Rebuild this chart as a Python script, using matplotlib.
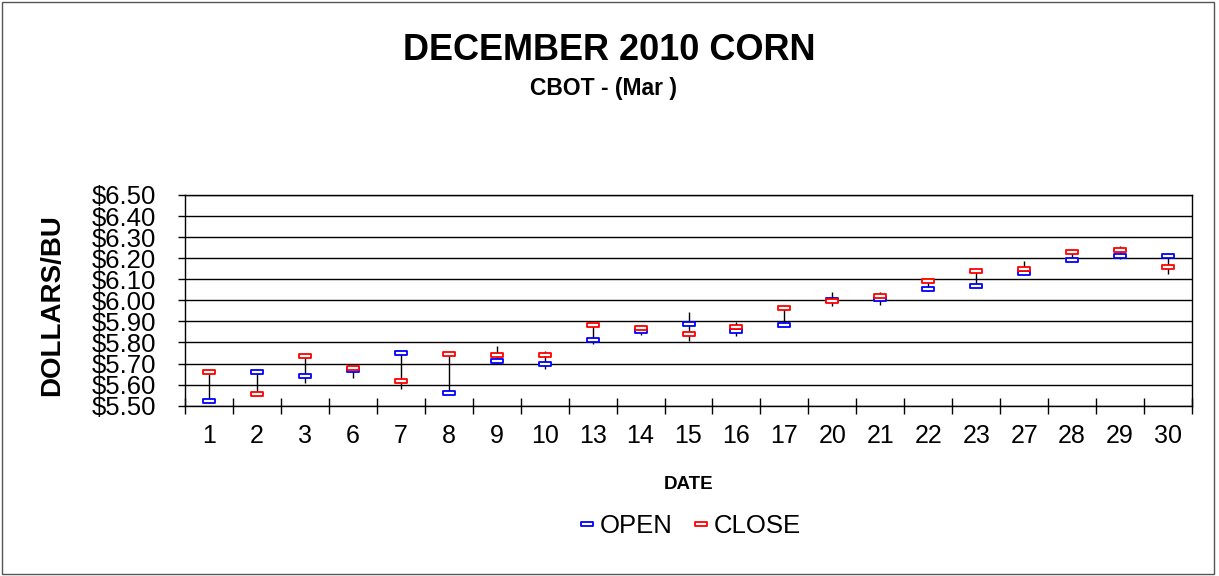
import numpy as np
import matplotlib.pyplot as plt
from matplotlib.path import Path
from matplotlib.patches import Rectangle

plt.rcParams["font.family"] = ["Liberation Sans", "DejaVu Sans"]

# daily trading days (March)
dates = ["1", "2", "3", "6", "7", "8", "9", "10", "13", "14", "15",
         "16", "17", "20", "21", "22", "23", "27", "28", "29", "30"]

open_price = [5.52, 5.66, 5.64, 5.67, 5.75, 5.56, 5.71, 5.70, 5.81, 5.855, 5.89,
              5.855, 5.885, 6.00, 6.005, 6.055, 6.07, 6.13, 6.19, 6.21, 6.21]
close_price = [5.66, 5.555, 5.735, 5.68, 5.615, 5.745, 5.74, 5.74, 5.885, 5.87, 5.84,
               5.875, 5.965, 5.995, 6.02, 6.09, 6.14, 6.15, 6.23, 6.24, 6.16]
high_price = [5.665, 5.675, 5.735, 5.695, 5.75, 5.745, 5.785, 5.76, 5.885, 5.885, 5.945,
              5.895, 5.98, 6.04, 6.04, 6.09, 6.14, 6.185, 6.235, 6.26, 6.22]
low_price = [5.515, 5.555, 5.61, 5.63, 5.58, 5.56, 5.705, 5.675, 5.795, 5.835, 5.805,
             5.83, 5.885, 5.975, 5.98, 6.045, 6.07, 6.125, 6.19, 6.195, 6.125]

y_ticks = [5.50, 5.60, 5.70, 5.80, 5.90, 6.00, 6.10, 6.20, 6.30, 6.40, 6.50]

x = np.arange(len(dates))

# flat hollow box marker for open / close
box = Path([(-1, -0.33), (1, -0.33), (1, 0.33), (-1, 0.33), (-1, -0.33)],
           [Path.MOVETO, Path.LINETO, Path.LINETO, Path.LINETO, Path.CLOSEPOLY])

fig = plt.figure(figsize=(12.19, 5.76), dpi=100)
ax = fig.add_axes([185 / 1219, 1 - 405.7 / 576, 1007 / 1219, 210.7 / 576])

# high-low bars
ax.vlines(x, low_price, high_price, color="black", linewidth=1, zorder=3)

ax.plot(x, open_price, linestyle="none", marker=box, markersize=8.8,
        markerfacecolor="white", markeredgecolor="#0000ff", markeredgewidth=1.3,
        label="OPEN", zorder=4)
ax.plot(x, close_price, linestyle="none", marker=box, markersize=8.8,
        markerfacecolor="white", markeredgecolor="#ff0000", markeredgewidth=1.3,
        label="CLOSE", zorder=5)

ax.set_xlim(-0.5, len(dates) - 0.5)
ax.set_ylim(5.50, 6.50)

ax.set_yticks(y_ticks)
ax.set_yticklabels(["$%.2f" % v for v in y_ticks], fontsize=18.5)
ax.yaxis.grid(True, color="black", linewidth=1)
ax.set_axisbelow(True)

# category ticks sit between the dates, labels in the middle
ax.set_xticks(np.arange(-0.5, len(dates), 1.0))
ax.set_xticklabels([])
ax.set_xticks(x, minor=True)
ax.set_xticklabels(dates, minor=True, fontsize=18)
ax.tick_params(axis="x", which="major", direction="inout", length=11, width=1)
ax.tick_params(axis="x", which="minor", length=0, pad=13)
ax.tick_params(axis="y", direction="out", length=5, width=1, pad=16)

for s in ax.spines.values():
    s.set_color("black")
    s.set_linewidth(1)

ax.set_ylabel("DOLLARS/BU", fontsize=20, fontweight="bold")
ax.yaxis.set_label_coords(-120 / 1007, 0.48)
ax.set_xlabel("DATE", fontsize=13.5, fontweight="bold", labelpad=20)

fig.text(609 / 1219, 1 - 51 / 576, "DECEMBER 2010 CORN", ha="center", va="center",
         fontsize=26, fontweight="bold")
fig.text(604 / 1219, 1 - 88 / 576, "CBOT - (Mar )", ha="center", va="center",
         fontsize=16.5, fontweight="bold")

fig.legend(loc="center", bbox_to_anchor=(690 / 1219, 1 - 526 / 576), ncol=2,
           frameon=False, fontsize=18.5, handlelength=0.6, handletextpad=0.2,
           columnspacing=0.8)

# outer frame
fig.patches.append(Rectangle((2 / 1219, 2 / 576), 1212 / 1219, 572 / 576,
                             transform=fig.transFigure, fill=False,
                             edgecolor="#555555", linewidth=1))

plt.savefig("out.png", dpi=100)
plt.close()
